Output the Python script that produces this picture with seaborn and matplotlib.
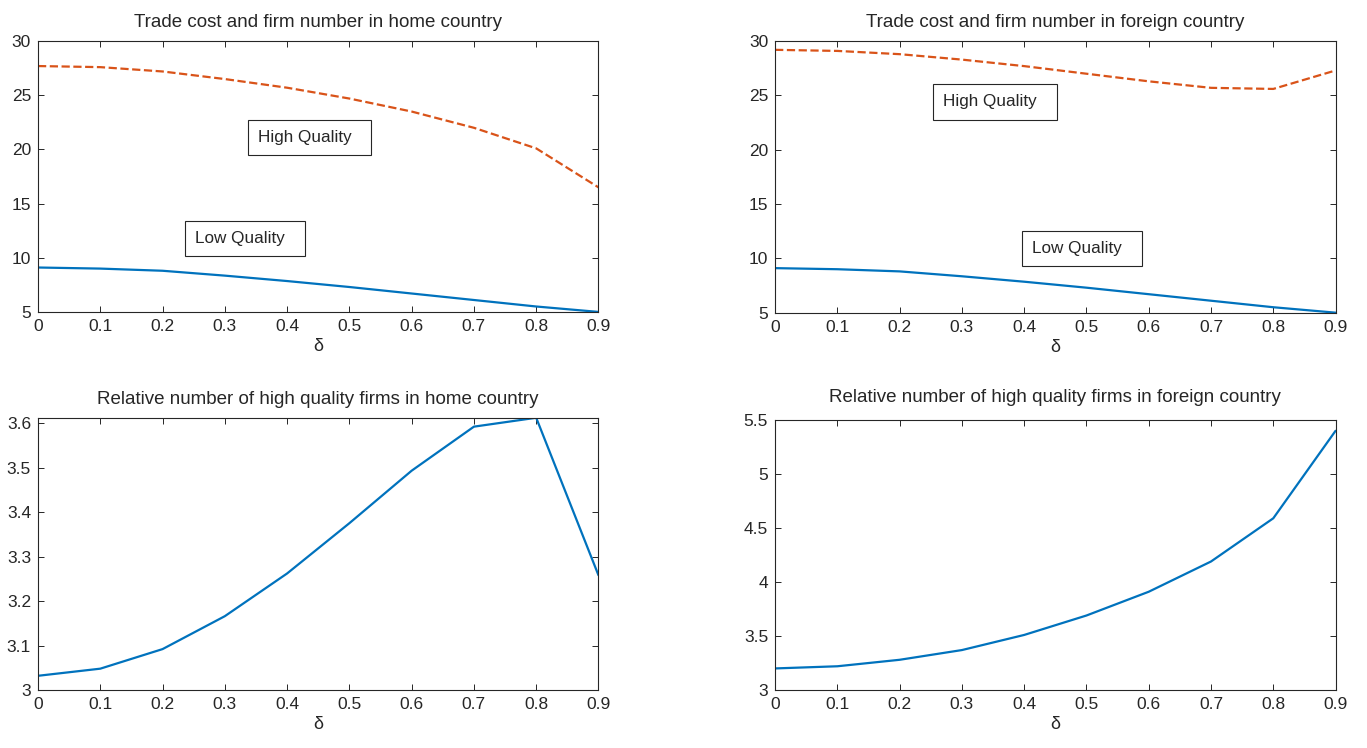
import pandas as pd
import seaborn as sns
from matplotlib import pyplot as plt

# delta grid and series
delta = [0, 0.1, 0.2, 0.3, 0.4, 0.5, 0.6, 0.7, 0.8, 0.9]
home_high = [27.7, 27.6, 27.2, 26.5, 25.7, 24.7, 23.5, 22.0, 20.1, 16.5]
home_low = [9.1, 9.0, 8.8, 8.35, 7.85, 7.3, 6.7, 6.1, 5.5, 5.0]
foreign_high = [29.2, 29.1, 28.8, 28.3, 27.7, 27.0, 26.3, 25.7, 25.6, 27.3]
foreign_low = [9.1, 9.0, 8.8, 8.35, 7.85, 7.3, 6.7, 6.1, 5.5, 5.0]
home_rel = [3.032, 3.048, 3.092, 3.166, 3.262, 3.375, 3.493, 3.592, 3.612, 3.258]
foreign_rel = [3.20, 3.22, 3.28, 3.37, 3.51, 3.69, 3.91, 4.19, 4.59, 5.40]

BLUE = "#0072BD"
ORANGE = "#D95319"

sns.set_theme(style="white")
plt.rcParams["font.family"] = ["Liberation Sans", "DejaVu Sans"]
plt.rcParams["font.size"] = 11

fig = plt.figure(figsize=(13.67, 7.48), dpi=100)
ax_tl = fig.add_axes([0.0278, 0.583, 0.410, 0.362])
ax_tr = fig.add_axes([0.567, 0.582, 0.410, 0.363])
ax_bl = fig.add_axes([0.0278, 0.0775, 0.410, 0.364])
ax_br = fig.add_axes([0.567, 0.0775, 0.410, 0.361])

df = pd.DataFrame({
    "delta": delta,
    "home_high": home_high,
    "home_low": home_low,
    "foreign_high": foreign_high,
    "foreign_low": foreign_low,
    "home_rel": home_rel,
    "foreign_rel": foreign_rel,
})


def matlab_box(ax):
    ax.set_xlim(0, 0.9)
    ax.set_xticks([0, 0.1, 0.2, 0.3, 0.4, 0.5, 0.6, 0.7, 0.8, 0.9])
    ax.set_xticklabels(["0", "0.1", "0.2", "0.3", "0.4", "0.5", "0.6", "0.7", "0.8", "0.9"])
    ax.tick_params(direction="in", length=4, width=0.7, colors="#262626",
                   top=True, right=True, bottom=True, left=True, labelsize=12.5, pad=5)
    for s in ax.spines.values():
        s.set_color("#262626")
        s.set_linewidth(0.8)
    ax.set_ylabel("")


def textbox(ax, x, y, s):
    ax.text(x, y, s + "  ", ha="center", va="center", fontsize=12.3,
            bbox=dict(boxstyle="square,pad=0.6", fc="white", ec="#262626", lw=0.8))


# top left
sns.lineplot(data=df, x="delta", y="home_high", ax=ax_tl, color=ORANGE, linestyle="--", linewidth=1.6)
sns.lineplot(data=df, x="delta", y="home_low", ax=ax_tl, color=BLUE, linewidth=1.6)
matlab_box(ax_tl)
ax_tl.set_ylim(5, 30)
ax_tl.set_yticks([5, 10, 15, 20, 25, 30])
ax_tl.set_title("Trade cost and firm number in home country", fontsize=13.5, pad=10)
ax_tl.set_xlabel("δ", fontsize=13, labelpad=3)
textbox(ax_tl, 0.436, 21.1, "High Quality")
textbox(ax_tl, 0.332, 11.8, "Low Quality")

# top right
sns.lineplot(data=df, x="delta", y="foreign_high", ax=ax_tr, color=ORANGE, linestyle="--", linewidth=1.6)
sns.lineplot(data=df, x="delta", y="foreign_low", ax=ax_tr, color=BLUE, linewidth=1.6)
matlab_box(ax_tr)
ax_tr.set_ylim(5, 30)
ax_tr.set_yticks([5, 10, 15, 20, 25, 30])
ax_tr.set_title("Trade cost and firm number in foreign country", fontsize=13.5, pad=10)
ax_tr.set_xlabel("δ", fontsize=13, labelpad=3)
textbox(ax_tr, 0.353, 24.4, "High Quality")
textbox(ax_tr, 0.4925, 10.9, "Low Quality")

# bottom left
sns.lineplot(data=df, x="delta", y="home_rel", ax=ax_bl, color=BLUE, linewidth=1.6)
matlab_box(ax_bl)
ax_bl.set_ylim(3, 3.612)
ax_bl.set_yticks([3, 3.1, 3.2, 3.3, 3.4, 3.5, 3.6])
ax_bl.set_yticklabels(["3", "3.1", "3.2", "3.3", "3.4", "3.5", "3.6"])
ax_bl.set_title("Relative number of high quality firms in home country", fontsize=13.5, pad=10)
ax_bl.set_xlabel("δ", fontsize=13, labelpad=3)

# bottom right
sns.lineplot(data=df, x="delta", y="foreign_rel", ax=ax_br, color=BLUE, linewidth=1.6)
matlab_box(ax_br)
ax_br.set_ylim(3, 5.5)
ax_br.set_yticks([3, 3.5, 4, 4.5, 5, 5.5])
ax_br.set_yticklabels(["3", "3.5", "4", "4.5", "5", "5.5"])
ax_br.set_title("Relative number of high quality firms in foreign country", fontsize=13.5, pad=13)
ax_br.set_xlabel("δ", fontsize=13, labelpad=3)

plt.savefig("out.png", dpi=100)
